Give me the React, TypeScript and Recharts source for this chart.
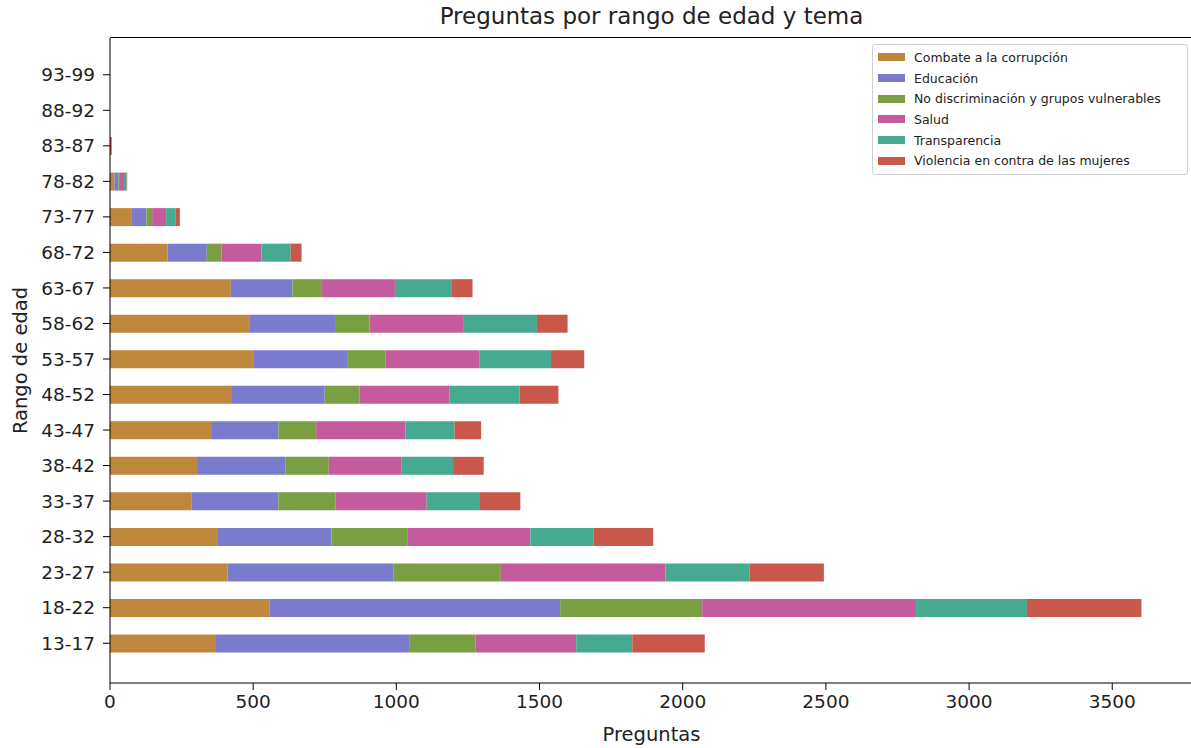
import React from 'react';
import { BarChart, Bar, XAxis, YAxis } from 'recharts';

const rangos = ['13-17', '18-22', '23-27', '28-32', '33-37', '38-42', '43-47', '48-52', '53-57', '58-62', '63-67', '68-72', '73-77', '78-82', '83-87', '88-92', '93-99'];

const combate = [367, 558, 411, 377, 284, 304, 353, 426, 500, 486, 422, 201, 74, 15, 0, 0, 0];
const educacion = [680, 1014, 578, 396, 304, 308, 235, 324, 328, 303, 215, 137, 53, 14, 0, 0, 0];
const noDiscriminacion = [229, 496, 376, 265, 200, 152, 132, 121, 135, 117, 103, 52, 20, 6, 0, 0, 0];
const salud = [352, 747, 575, 430, 318, 253, 312, 314, 328, 327, 255, 139, 49, 14, 0, 0, 0];
const transparencia = [196, 387, 294, 220, 186, 181, 171, 245, 249, 258, 199, 102, 34, 9, 0, 0, 0];
const violencia = [253, 400, 259, 209, 141, 107, 93, 136, 116, 107, 72, 38, 14, 2, 6, 0, 0];

const xTicks = [0, 500, 1000, 1500, 2000, 2500, 3000, 3500];

const temas = [
  { key: 'combate', name: 'Combate a la corrupción', color: '#bf873c', values: combate },
  { key: 'educacion', name: 'Educación', color: '#7b7bcd', values: educacion },
  { key: 'noDisc', name: 'No discriminación y grupos vulnerables', color: '#7a9f42', values: noDiscriminacion },
  { key: 'salud', name: 'Salud', color: '#c45b9d', values: salud },
  { key: 'transparencia', name: 'Transparencia', color: '#46aa90', values: transparencia },
  { key: 'violencia', name: 'Violencia en contra de las mujeres', color: '#c9574b', values: violencia },
];

const data = rangos.map((rango, i) => {
  const row: any = { rango };
  temas.forEach((t) => { row[t.key] = t.values[i]; });
  return row;
});

const font = '"DejaVu Sans", sans-serif';

function LegendBox() {
  return (
    <div style={{ position: 'absolute', top: 44, left: 872, width: 316, boxSizing: 'border-box', border: '1px solid #d0d0d0', borderRadius: 3, background: '#fff', padding: '2px 6px 3px 5px', fontSize: 12.5, color: '#222' }}>
      {temas.map((t) => (
        <div key={t.key} style={{ display: 'flex', alignItems: 'center', height: 20.7 }}>
          <span style={{ display: 'inline-block', width: 27, height: 8, background: t.color, marginRight: 9 }} />
          <span>{t.name}</span>
        </div>
      ))}
    </div>
  );
}

export default function App() {
  return (
    <div style={{ position: 'absolute', left: 0, top: 0, width: 1191, height: 748, overflow: 'hidden', background: '#fff', fontFamily: font }}>
      <div style={{ position: 'absolute', top: 3, left: 110, width: 1083, textAlign: 'center', fontSize: 23, color: '#222' }}>
        Preguntas por rango de edad y tema
      </div>
      <BarChart
        width={1200}
        height={748}
        data={data}
        layout="vertical"
        margin={{ top: 38, right: 7, left: 0, bottom: 0 }}
        barSize={18}
      >
        <XAxis
          type="number"
          domain={[0, 3782]}
          ticks={xTicks}
          allowDataOverflow
          height={65}
          tickSize={7}
          tickMargin={5}
          stroke="#000"
          tick={{ fill: '#222', fontSize: 18.5, fontFamily: font }}
          label={{ value: 'Preguntas', position: 'insideBottom', offset: 7, fill: '#222', fontSize: 19.5, fontFamily: font }}
        />
        <YAxis
          type="category"
          dataKey="rango"
          reversed
          width={110}
          padding={{ top: 19, bottom: 22 }}
          tickSize={7}
          tickMargin={8}
          interval={0}
          stroke="#000"
          tick={{ fill: '#222', fontSize: 18.5, fontFamily: font }}
          label={{ value: 'Rango de edad', angle: -90, position: 'insideLeft', offset: 20, fill: '#222', fontSize: 19.5, fontFamily: font, style: { textAnchor: 'middle' } }}
        />
        {temas.map((t) => (
          <Bar key={t.key} dataKey={t.key} name={t.name} stackId="a" fill={t.color} isAnimationActive={false} />
        ))}
      </BarChart>
      <div style={{ position: 'absolute', top: 37, left: 110, width: 1090, height: 1, background: '#000' }} />
      <LegendBox />
    </div>
  );
}
